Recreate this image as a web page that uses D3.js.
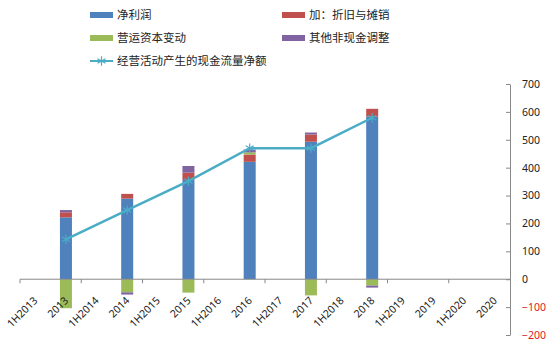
<!DOCTYPE html>
<html><head><meta charset="utf-8">
<script src="https://cdn.jsdelivr.net/npm/d3@7"></script>
<style>
html,body{margin:0;padding:0;background:#fff;}
svg{display:block;}
</style>
</head><body>
<svg id="chart" width="554" height="346"></svg>
<script>
const categories = ['1H2013','2013','1H2014','2014','1H2015','2015','1H2016','2016','1H2017','2017','1H2018','2018','1H2019','2019','1H2020','2020'];
const netProfit      = [null,222,null,289,null,356,null,421,null,493,null,583,null,null,null,null];
const depreciation   = [null, 18,null, 17,null, 26,null, 26,null, 26,null, 28,null,null,null,null];
const workingCapital = [null,-104,null,-47,null,-48,null, 8,null,-58,null,-23,null,null,null,null];
const otherAdj       = [null,  8,null, -8,null, 24,null, 10,null,  7,null, -7,null,null,null,null];
const operatingCF    = [null,143,null,248,null,352,null,470,null,470,null,579,null,null,null,null];
const yTicks = [-200,-100,0,100,200,300,400,500,600,700];

const seriesNames = ['净利润','加：折旧与摊销','营运资本变动','其他非现金调整'];
const lineName = '经营活动产生的现金流量净额';
const colors = ['#4F81BD','#C0504D','#9BBB59','#8064A2'];
const lineColor = '#4BACC6';
const barSeries = [netProfit, depreciation, workingCapital, otherAdj];

const svg = d3.select('#chart');
const x = d3.scaleBand().domain(categories).range([20,510]).paddingInner(0.6).paddingOuter(0.3);
const y = d3.scaleLinear().domain([-200,700]).range([335,84]);
const cjk = '"Noto Sans CJK SC","Noto Sans",sans-serif';
const lat = '"Noto Sans","DejaVu Sans",sans-serif';

// stacked segments
const segs = [];
categories.forEach((c,i)=>{
  let pos=0, neg=0;
  barSeries.forEach((s,k)=>{
    const v = s[i];
    if (v==null) return;
    if (v>=0){ segs.push({c,k,y0:pos,y1:pos+v}); pos+=v; }
    else { segs.push({c,k,y0:neg+v,y1:neg}); neg+=v; }
  });
});
const bw = 12;
svg.append('g').selectAll('rect').data(segs).join('rect')
  .attr('x',d=>x(d.c)+x.bandwidth()/2-bw/2)
  .attr('width',bw)
  .attr('y',d=>y(d.y1))
  .attr('height',d=>y(d.y0)-y(d.y1))
  .attr('fill',d=>colors[d.k]);

// x axis
const step = x.step();
svg.append('line').attr('x1',20).attr('x2',510).attr('y1',y(0)).attr('y2',y(0))
  .attr('stroke','#888').attr('stroke-width',1);
const tickIdx = d3.range(0,categories.length,2);
svg.append('g').selectAll('line').data(tickIdx).join('line')
  .attr('x1',i=>x(categories[i])-x.paddingOuter()*step).attr('x2',i=>x(categories[i])-x.paddingOuter()*step)
  .attr('y1',y(0)).attr('y2',y(0)+4).attr('stroke','#888');
svg.append('g').selectAll('text').data(categories).join('text')
  .attr('transform',d=>`translate(${x(d)+x.bandwidth()/2+3},${y(0)+22}) rotate(-45)`)
  .attr('text-anchor','end')
  .attr('font-family',lat).attr('font-size',10.5).attr('fill','#222')
  .text(d=>d);

// y axis (right)
const yAxis = d3.axisRight(y).tickValues(yTicks).tickSize(0).tickPadding(12);
const gy = svg.append('g').attr('transform','translate(510,0)').call(yAxis);
gy.select('.domain').attr('stroke','#888');
gy.selectAll('.tick line').attr('x1',-4).attr('x2',0).attr('stroke','#888');
gy.selectAll('.tick text').attr('font-family',lat).attr('font-size',10.5)
  .attr('text-anchor','start')
  .attr('fill',d=>d<0?'#E0161B':'#222');

// line
const pts = categories.map((c,i)=>({c,v:operatingCF[i]})).filter(d=>d.v!=null);
svg.append('path').datum(pts)
  .attr('d',d3.line().x(d=>x(d.c)+x.bandwidth()/2).y(d=>y(d.v)))
  .attr('fill','none').attr('stroke',lineColor).attr('stroke-width',2.5);
const star = d3.symbol().type(d3.symbolAsterisk).size(60);
svg.append('g').selectAll('path').data(pts).join('path')
  .attr('transform',d=>`translate(${x(d.c)+x.bandwidth()/2},${y(d.v)})`)
  .attr('d',star()).attr('fill','none').attr('stroke',lineColor).attr('stroke-width',1.2);

// legend
const legItems = [
  {name:seriesNames[0],color:colors[0],x:90,y:15},
  {name:seriesNames[1],color:colors[1],x:282,y:15},
  {name:seriesNames[2],color:colors[2],x:90,y:38},
  {name:seriesNames[3],color:colors[3],x:282,y:38}
];
const lg = svg.append('g');
legItems.forEach(l=>{
  lg.append('rect').attr('x',l.x).attr('y',l.y-3).attr('width',23).attr('height',6).attr('fill',l.color);
  lg.append('text').attr('x',l.x+27).attr('y',l.y).attr('dy','0.35em')
    .attr('font-family',cjk).attr('font-size',11.5).attr('fill','#222').text(l.name);
});
lg.append('line').attr('x1',90).attr('x2',113).attr('y1',61).attr('y2',61).attr('stroke',lineColor).attr('stroke-width',2);
lg.append('path').attr('transform','translate(101.5,61)').attr('d',star()).attr('fill','none').attr('stroke',lineColor).attr('stroke-width',1.2);
lg.append('text').attr('x',117).attr('y',61).attr('dy','0.35em')
  .attr('font-family',cjk).attr('font-size',11.5).attr('fill','#222').text(lineName);
</script>
</body></html>
